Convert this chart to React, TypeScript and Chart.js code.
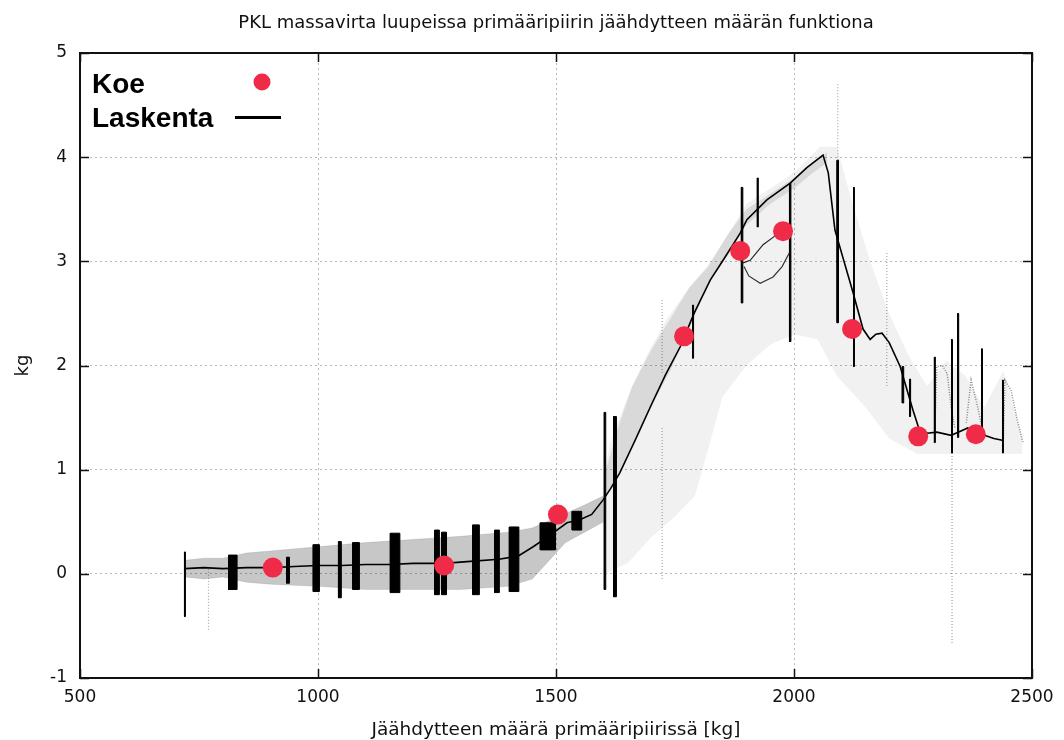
import React, { useEffect, useRef } from 'react';
import { Chart, registerables } from 'chart.js';

Chart.register(...registerables);

// ---------- text ----------
const chartTitle = 'PKL massavirta luupeissa primääripiirin jäähdytteen määrän funktiona';
const xAxisTitle = 'Jäähdytteen määrä primääripiirissä [kg]';
const yAxisTitle = 'kg';
const seriesNames = ['Koe', 'Laskenta'];

// ---------- axes ----------
const xTicks = [500, 1000, 1500, 2000, 2500];
const yTicks = [-1, 0, 1, 2, 3, 4, 5];

// ---------- Koe (measured) ----------
const koeX = [905, 1265, 1504, 1769, 1887, 1977, 2122, 2261, 2382];
const koeY = [0.06, 0.08, 0.57, 2.28, 3.10, 3.29, 2.35, 1.32, 1.34];

// ---------- Laskenta (calculated) main trace ----------
const laskentaX = [720, 760, 800, 850, 905, 950, 1000, 1050, 1100, 1150, 1200, 1265, 1320, 1380, 1420, 1452, 1487, 1523, 1550, 1575, 1599, 1615, 1634, 1670, 1702, 1730, 1761, 1790, 1824, 1851, 1887, 1901, 1943, 1992, 2027, 2061, 2072, 2086, 2105, 2124, 2145, 2160, 2172, 2185, 2200, 2223, 2250, 2262, 2280, 2300, 2330, 2345, 2365, 2382, 2400, 2420, 2440];
const laskentaY = [0.05, 0.06, 0.05, 0.06, 0.06, 0.07, 0.08, 0.08, 0.09, 0.09, 0.10, 0.10, 0.12, 0.14, 0.17, 0.26, 0.37, 0.49, 0.52, 0.57, 0.71, 0.82, 0.97, 1.32, 1.64, 1.91, 2.18, 2.50, 2.82, 3.01, 3.27, 3.40, 3.59, 3.75, 3.90, 4.02, 3.85, 3.30, 3.00, 2.70, 2.35, 2.25, 2.30, 2.31, 2.22, 1.99, 1.57, 1.40, 1.35, 1.36, 1.33, 1.36, 1.40, 1.36, 1.33, 1.30, 1.28];

// side branches of the calculated trace
const branchAX = [1890, 1908, 1935, 1956, 1977];
const branchAY = [2.98, 3.01, 3.16, 3.23, 3.30];
const branchBX = [1895, 1905, 1929, 1956, 1975, 1990];
const branchBY = [2.95, 2.86, 2.79, 2.85, 2.95, 3.08];

// faint humps at the right end (null = break)
const humpX = [2296, 2300, 2312, 2322, 2330, 2338, 2339, 2362, 2372, 2385, 2395, 2396, 2440, 2443, 2456, 2468, 2481];
const humpY = [1.40, 1.99, 2.00, 1.92, 1.60, 1.40, null, 1.45, 1.86, 1.62, 1.40, null, 1.30, 1.86, 1.76, 1.50, 1.26];

// dense scatter cloud around the low plateau
const lowCloudX = [720, 760, 800, 850, 900, 1000, 1100, 1200, 1300, 1400, 1450, 1480, 1520, 1560, 1600];
const lowCloudTop = [0.13, 0.15, 0.15, 0.20, 0.22, 0.26, 0.30, 0.33, 0.36, 0.40, 0.44, 0.50, 0.58, 0.66, 0.75];
const lowCloudBottom = [-0.03, -0.05, -0.03, -0.08, -0.10, -0.12, -0.15, -0.15, -0.15, -0.12, -0.05, 0.10, 0.30, 0.40, 0.50];

// denser scatter just above the rising trace
const riseCloudX = [1605, 1630, 1660, 1700, 1740, 1780, 1820, 1860, 1900, 1950, 2000, 2040, 2070];
const riseCloudTop = [1.00, 1.40, 1.80, 2.15, 2.45, 2.75, 2.95, 3.25, 3.50, 3.65, 3.80, 3.95, 4.05];
const riseCloudBottom = [0.75, 0.95, 1.25, 1.60, 1.95, 2.35, 2.80, 3.05, 3.35, 3.55, 3.70, 3.85, 3.95];

// sparse scatter over the upper region
const sparseTopX = [1600, 1613, 1655, 1691, 1733, 1780, 1817, 1860, 1900, 1950, 2000, 2055, 2090, 2120, 2160, 2200, 2240, 2280, 2320, 2360, 2400, 2440, 2480];
const sparseTopY = [0.90, 1.25, 1.75, 2.10, 2.45, 2.75, 2.95, 3.25, 3.55, 3.70, 3.85, 4.10, 4.10, 3.60, 3.00, 2.50, 2.10, 1.80, 2.05, 1.90, 1.60, 1.95, 1.30];
const sparseBottomX = [1600, 1650, 1700, 1750, 1792, 1820, 1850, 1900, 1950, 2000, 2050, 2090, 2150, 2200, 2260, 2300, 2400, 2480];
const sparseBottomY = [0.00, 0.10, 0.35, 0.55, 0.75, 1.20, 1.70, 2.00, 2.20, 2.30, 2.25, 1.90, 1.60, 1.30, 1.15, 1.15, 1.15, 1.15];

// dense vertical bands of the calculation (kg range, value range)
const bandFrom = [719.5, 812, 934, 990, 1043, 1073, 1152, 1245, 1260, 1325, 1371, 1402, 1467, 1534, 1601.5, 1621, 1787, 1889.5, 1923, 1990.5, 2090.5, 2125, 2227.5, 2243, 2295, 2331, 2344, 2394, 2438];
const bandTo = [721.5, 830, 940, 1003, 1049, 1087, 1172, 1255, 1270, 1339, 1381, 1422, 1499, 1554, 1604.5, 1627, 1789, 1892.5, 1925, 1993.5, 2093.5, 2127, 2230.5, 2245, 2297, 2333, 2346, 2396, 2440];
const bandTop = [0.21, 0.18, 0.16, 0.28, 0.31, 0.30, 0.39, 0.42, 0.40, 0.47, 0.42, 0.45, 0.49, 0.60, 1.55, 1.51, 2.58, 3.71, 3.80, 3.75, 3.97, 3.71, 1.99, 1.87, 2.08, 2.25, 2.50, 2.16, 1.86];
const bandBottom = [-0.41, -0.15, -0.09, -0.17, -0.23, -0.15, -0.18, -0.20, -0.20, -0.20, -0.18, -0.17, 0.23, 0.42, -0.15, -0.22, 2.07, 2.60, 3.33, 2.23, 2.41, 1.99, 1.64, 1.51, 1.26, 1.16, 1.31, 1.31, 1.16];

// faint single dotted verticals
const faintX = [1723, 1723, 2092, 2195, 2332, 770];
const faintTop = [2.63, 1.40, 4.70, 3.08, 1.16, 0.05];
const faintBottom = [1.93, -0.06, 3.97, 1.79, -0.68, -0.55];

// ---------- build datasets ----------
const pts = (xs: number[], ys: (number | null)[]) => xs.map((x, i) => ({ x, y: ys[i] }));

function buildDatasets() {
  const ds: any[] = [];
  ds.push({
    label: seriesNames[0],
    data: pts(koeX, koeY),
    showLine: false,
    pointRadius: 10,
    pointBackgroundColor: '#ef2b47',
    pointBorderWidth: 0,
    order: 0,
  });
  ds.push({
    label: seriesNames[1],
    data: pts(laskentaX, laskentaY),
    showLine: true,
    borderColor: '#000',
    borderWidth: 1.6,
    pointRadius: 0,
    order: 1,
  });
  ds.push({ label: 'branchA', data: pts(branchAX, branchAY), showLine: true, borderColor: '#222', borderWidth: 1.2, pointRadius: 0, order: 1 });
  ds.push({ label: 'branchB', data: pts(branchBX, branchBY), showLine: true, borderColor: '#333', borderWidth: 1.2, pointRadius: 0, order: 1 });
  ds.push({ label: 'humps', data: pts(humpX, humpY), showLine: true, spanGaps: false, borderColor: 'rgba(0,0,0,0.45)', borderWidth: 1.5, borderDash: [1, 1.5], pointRadius: 0, order: 2 });

  bandFrom.forEach((x0, i) => {
    const x1 = bandTo[i];
    const t = bandTop[i];
    const b = bandBottom[i];
    ds.push({
      label: 'band' + i,
      data: [{ x: x0, y: b }, { x: x1, y: b }, { x: x1, y: t }, { x: x0, y: t }, { x: x0, y: b }],
      showLine: true,
      fill: 'shape',
      backgroundColor: '#000',
      borderColor: '#000',
      borderWidth: 1,
      pointRadius: 0,
      order: 2,
    });
  });

  faintX.forEach((x, i) => {
    ds.push({
      label: 'faint' + i,
      data: [{ x, y: faintTop[i] }, { x, y: faintBottom[i] }],
      showLine: true,
      borderColor: 'rgba(0,0,0,0.35)',
      borderWidth: 1.2,
      borderDash: [1, 2],
      pointRadius: 0,
      order: 3,
    });
  });

  // clouds (upper line fills down to the following dataset)
  ds.push({ label: 'lowTop', data: pts(lowCloudX, lowCloudTop), showLine: true, fill: '+1', backgroundColor: 'rgba(0,0,0,0.22)', borderColor: 'rgba(0,0,0,0.1)', borderWidth: 1, pointRadius: 0, order: 4 });
  ds.push({ label: 'lowBottom', data: pts(lowCloudX, lowCloudBottom), showLine: true, fill: false, borderColor: 'rgba(0,0,0,0.1)', borderWidth: 1, pointRadius: 0, order: 4 });
  ds.push({ label: 'riseTop', data: pts(riseCloudX, riseCloudTop), showLine: true, fill: '+1', backgroundColor: 'rgba(0,0,0,0.1)', borderColor: 'rgba(0,0,0,0)', borderWidth: 0, pointRadius: 0, order: 4 });
  ds.push({ label: 'riseBottom', data: pts(riseCloudX, riseCloudBottom), showLine: true, fill: false, borderColor: 'rgba(0,0,0,0)', borderWidth: 0, pointRadius: 0, order: 4 });
  ds.push({ label: 'sparseTop', data: pts(sparseTopX, sparseTopY), showLine: true, fill: '+1', backgroundColor: 'rgba(0,0,0,0.055)', borderColor: 'rgba(0,0,0,0)', borderWidth: 0, pointRadius: 0, order: 5 });
  ds.push({ label: 'sparseBottom', data: pts(sparseBottomX, sparseBottomY), showLine: true, fill: false, borderColor: 'rgba(0,0,0,0)', borderWidth: 0, pointRadius: 0, order: 5 });
  return ds;
}

const FONT = '"DejaVu Sans", sans-serif';

const decorPlugin = {
  id: 'decor',
  afterDatasetsDraw(chart: any) {
    const { ctx, chartArea: a, scales } = chart;
    ctx.save();
    // frame
    ctx.strokeStyle = '#111';
    ctx.lineWidth = 2;
    ctx.strokeRect(a.left, a.top, a.right - a.left, a.bottom - a.top);
    // inner ticks (mirrored)
    ctx.lineWidth = 1.5;
    ctx.beginPath();
    xTicks.forEach((v) => {
      const px = Math.round(scales.x.getPixelForValue(v)) + 0.5;
      ctx.moveTo(px, a.bottom); ctx.lineTo(px, a.bottom - 9);
      ctx.moveTo(px, a.top); ctx.lineTo(px, a.top + 9);
    });
    yTicks.forEach((v) => {
      const py = Math.round(scales.y.getPixelForValue(v)) + 0.5;
      ctx.moveTo(a.left, py); ctx.lineTo(a.left + 9, py);
      ctx.moveTo(a.right, py); ctx.lineTo(a.right - 9, py);
    });
    ctx.stroke();

    // titles
    ctx.fillStyle = '#111';
    ctx.textAlign = 'center';
    ctx.textBaseline = 'alphabetic';
    ctx.font = '18px ' + FONT;
    ctx.fillText(chartTitle, (a.left + a.right) / 2, 28);
    ctx.font = '18.5px ' + FONT;
    ctx.fillText(xAxisTitle, (a.left + a.right) / 2, 735);
    ctx.save();
    ctx.translate(28, (a.top + a.bottom) / 2);
    ctx.rotate(-Math.PI / 2);
    ctx.font = '18px ' + FONT;
    ctx.fillText(yAxisTitle, 0, 0);
    ctx.restore();

    // legend
    ctx.textAlign = 'left';
    ctx.fillStyle = '#000';
    ctx.font = 'bold 28px "Liberation Sans", Arial, sans-serif';
    ctx.fillText(seriesNames[0], 92, 93);
    ctx.fillText(seriesNames[1], 92, 127);
    ctx.beginPath();
    ctx.fillStyle = '#ef2b47';
    ctx.arc(262, 82, 8.5, 0, Math.PI * 2);
    ctx.fill();
    ctx.strokeStyle = '#000';
    ctx.lineWidth = 3;
    ctx.beginPath();
    ctx.moveTo(235, 117.5);
    ctx.lineTo(281, 117.5);
    ctx.stroke();
    ctx.restore();
  },
};

export default function App() {
  const ref = useRef<HTMLCanvasElement>(null);
  useEffect(() => {
    document.body.style.margin = '0';
    const canvas = ref.current!;
    const chart = new Chart(canvas, {
      type: 'scatter',
      data: { datasets: buildDatasets() },
      options: {
        responsive: false,
        animation: false,
        devicePixelRatio: 1,
        events: [],
        layout: { padding: { top: 53, right: 32, bottom: 0, left: 0 } },
        plugins: {
          legend: { display: false },
          title: { display: false },
          tooltip: { enabled: false },
        },
        scales: {
          x: {
            type: 'linear',
            min: 500,
            max: 2500,
            afterBuildTicks: (s: any) => { s.ticks = xTicks.map((value) => ({ value })); },
            afterFit: (s: any) => { s.height = 62; },
            grid: { color: '#b8b8b8', lineWidth: 1, drawTicks: false },
            border: { display: false, dash: [2, 3] },
            ticks: { font: { family: FONT, size: 17 }, color: '#111', padding: 9, maxRotation: 0, callback: (v: any) => String(v) },
          },
          y: {
            type: 'linear',
            min: -1,
            max: 5,
            afterBuildTicks: (s: any) => { s.ticks = yTicks.map((value) => ({ value })); },
            afterFit: (s: any) => { s.width = 80; },
            grid: { color: '#b8b8b8', lineWidth: 1, drawTicks: false },
            border: { display: false, dash: [2, 3] },
            ticks: { font: { family: FONT, size: 17 }, color: '#111', padding: 13, callback: (v: any) => String(v) },
          },
        },
      },
      plugins: [decorPlugin],
    });
    return () => chart.destroy();
  }, []);
  return <canvas ref={ref} width={1064} height={740} style={{ display: 'block', width: 1064, height: 740 }} />;
}
